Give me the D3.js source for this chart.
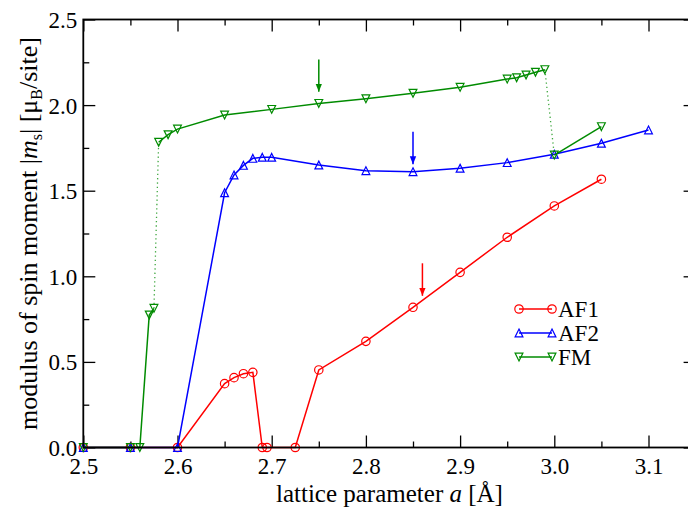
<!DOCTYPE html>
<html><head><meta charset="utf-8">
<script src="https://cdn.jsdelivr.net/npm/d3@7"></script>
<style>body{margin:0;background:#fff}svg{display:block}</style>
</head><body><svg id="c" width="688" height="508"></svg>
<script>
const xTicks = [2.5,2.6,2.7,2.8,2.9,3.0,3.1];
const xMinor = [2.55,2.65,2.75,2.85,2.95,3.05,3.15];
const yTicks = [0,0.5,1.0,1.5,2.0,2.5];
const yMinor = [0.25,0.75,1.25,1.75,2.25];

const xAF1 = [2.5,2.55,2.6,2.65,2.66,2.67,2.68,2.69,2.695,2.725,2.75,2.8,2.85,2.9,2.95,3.0,3.05];
const yAF1 = [0,0,0,0.373,0.408,0.431,0.439,0,0,0,0.453,0.620,0.819,1.023,1.228,1.411,1.567];

const xAF2 = [2.5,2.55,2.6,2.65,2.66,2.67,2.68,2.69,2.7,2.75,2.8,2.85,2.9,2.95,3.0,3.05,3.1];
const yAF2 = [0,0,0,1.488,1.592,1.648,1.689,1.695,1.695,1.650,1.617,1.611,1.631,1.664,1.713,1.777,1.855];

const xFM = [2.5,2.55,2.56,2.57,2.575,2.58,2.59,2.6,2.65,2.7,2.75,2.8,2.85,2.9,2.95,2.96,2.97,2.98,2.99,3.0,3.05];
const yFM = [0,0,0,0.774,0.813,1.783,1.827,1.860,1.942,1.975,2.010,2.037,2.069,2.104,2.152,2.160,2.176,2.192,2.207,1.708,1.874];
const branchFM = [0,0,0,0,0,1,1,1,1,1,1,1,1,1,1,1,1,1,1,2,2];

const seriesNames = ["AF1","AF2","FM"];
const seriesColors = ["#ff0000","#0000ff","#008b00"];

// arrows marking equilibrium: x, yStart, yEnd
const arrowX = [2.86,2.85,2.75];
const arrowY0 = [1.076,1.844,2.267];
const arrowY1 = [0.886,1.654,2.078];

const FONT = "'Liberation Serif', 'DejaVu Serif', serif";
const svg = d3.select("#c").attr("font-family",FONT);
const L=83.3, R=695.6, T=19.5, B=447.5;
const x = d3.scaleLinear().domain([2.5,3.15]).range([L,R]);
const y = d3.scaleLinear().domain([0,2.5]).range([B,T]);

const defs = svg.append("defs");
seriesColors.forEach((c,i)=>{
  defs.append("marker").attr("id","ah"+i).attr("viewBox","0 0 10 10").attr("refX",10).attr("refY",5)
    .attr("markerWidth",8).attr("markerHeight",8).attr("markerUnits","userSpaceOnUse").attr("orient","auto")
    .append("path").attr("d","M0,1 L10,5 L0,9 Z").attr("fill",c);
});

const fmt = d3.format(".1f");
const gB = svg.append("g").attr("transform",`translate(0,${B})`).call(d3.axisBottom(x).tickValues(xTicks).tickFormat(fmt).tickSizeInner(-12).tickSizeOuter(0));
const gBm = svg.append("g").attr("transform",`translate(0,${B})`).call(d3.axisBottom(x).tickValues(xMinor).tickFormat("").tickSizeInner(-6).tickSizeOuter(0));
const gT = svg.append("g").attr("transform",`translate(0,${T})`).call(d3.axisTop(x).tickValues(xTicks).tickFormat("").tickSizeInner(-12).tickSizeOuter(0));
const gTm = svg.append("g").attr("transform",`translate(0,${T})`).call(d3.axisTop(x).tickValues(xMinor).tickFormat("").tickSizeInner(-6).tickSizeOuter(0));
const gL = svg.append("g").attr("transform",`translate(${L},0)`).call(d3.axisLeft(y).tickValues(yTicks).tickFormat(fmt).tickSizeInner(-12).tickSizeOuter(0));
const gLm = svg.append("g").attr("transform",`translate(${L},0)`).call(d3.axisLeft(y).tickValues(yMinor).tickFormat("").tickSizeInner(-6).tickSizeOuter(0));
const gR = svg.append("g").attr("transform",`translate(${R},0)`).call(d3.axisRight(y).tickValues(yTicks).tickFormat("").tickSizeInner(-12).tickSizeOuter(0));
const gRm = svg.append("g").attr("transform",`translate(${R},0)`).call(d3.axisRight(y).tickValues(yMinor).tickFormat("").tickSizeInner(-6).tickSizeOuter(0));
[gB,gBm,gT,gTm,gL,gLm,gR,gRm].forEach(g=>{
  g.attr("font-family",FONT).attr("font-size",null);
  g.select(".domain").remove();
  g.selectAll(".tick line").attr("stroke","#000").attr("stroke-width",1.3);
});
gB.selectAll(".tick text").attr("y",10).attr("dy","0.71em").attr("font-family",FONT).attr("font-size",23).attr("fill","#000");
gL.selectAll(".tick text").attr("x",-6).attr("dy","0.35em").attr("font-family",FONT).attr("font-size",23).attr("fill","#000");

const series = [
  {xs:xAF1, ys:yAF1, br:xAF1.map(()=>0)},
  {xs:xAF2, ys:yAF2, br:xAF2.map(()=>0)},
  {xs:xFM, ys:yFM, br:branchFM}
];
const line = d3.line().x(d=>x(d[0])).y(d=>y(d[1]));
const r=4.2, tr=3.9;
function sym(g,i,cx,cy,col){
  if(i===0) g.append("circle").attr("cx",cx).attr("cy",cy).attr("r",r).attr("fill","none").attr("stroke",col).attr("stroke-width",1.2);
  else if(i===1) g.append("path").attr("d",`M${cx},${cy-tr}L${cx+tr},${cy+tr}L${cx-tr},${cy+tr}Z`).attr("fill","none").attr("stroke",col).attr("stroke-width",1.2);
  else g.append("path").attr("d",`M${cx},${cy+tr}L${cx+tr},${cy-tr}L${cx-tr},${cy-tr}Z`).attr("fill","none").attr("stroke",col).attr("stroke-width",1.2);
}
series.forEach((s,i)=>{
  const col = seriesColors[i];
  const pts = s.xs.map((v,k)=>[v,s.ys[k],s.br[k]]);
  const g = svg.append("g");
  const branches = d3.groups(pts,d=>d[2]).map(d=>d[1]);
  branches.forEach((bp,bi)=>{
    g.append("path").datum(bp).attr("d",line).attr("fill","none").attr("stroke",col).attr("stroke-width",1.5);
    if(bi>0){
      const prev = branches[bi-1];
      g.append("path").datum([prev[prev.length-1],bp[0]]).attr("d",line).attr("fill","none")
        .attr("stroke",col).attr("stroke-width",1.3).attr("stroke-dasharray","1.3,3").attr("opacity",0.75);
    }
  });
  pts.forEach(p=>sym(g,i,x(p[0]),y(p[1]),col));
});

svg.append("rect").attr("x",L).attr("y",T).attr("width",R-L).attr("height",B-T).attr("fill","none").attr("stroke","#000").attr("stroke-width",1.8);

arrowX.forEach((ax,i)=>{
  svg.append("line").attr("x1",x(ax)).attr("x2",x(ax)).attr("y1",y(arrowY0[i])).attr("y2",y(arrowY1[i]))
    .attr("stroke",seriesColors[i]).attr("stroke-width",1.5).attr("marker-end",`url(#ah${i})`);
});

const legY = [309,333,357];
seriesNames.forEach((n,i)=>{
  const g = svg.append("g");
  g.append("line").attr("x1",519).attr("x2",552).attr("y1",legY[i]).attr("y2",legY[i]).attr("stroke",seriesColors[i]).attr("stroke-width",1.5);
  sym(g,i,519,legY[i],seriesColors[i]); sym(g,i,552,legY[i],seriesColors[i]);
  g.append("text").attr("x",558).attr("y",legY[i]).attr("dy","0.35em").attr("font-family",FONT).attr("font-size",23).text(n);
});

const xt = svg.append("text").attr("x",(L+R)/2).attr("y",502).attr("text-anchor","middle").attr("font-family",FONT).attr("font-size",25);
xt.append("tspan").text("lattice parameter ");
xt.append("tspan").attr("font-style","italic").text("a");
xt.append("tspan").text(" [Å]");

const yt = svg.append("text").attr("transform",`translate(37,${(T+B)/2}) rotate(-90)`).attr("text-anchor","middle").attr("font-family",FONT).attr("font-size",26);
yt.append("tspan").text("modulus of spin moment |");
yt.append("tspan").attr("font-style","italic").text("m");
yt.append("tspan").attr("dy",5).attr("font-size",16).text("s");
yt.append("tspan").attr("dy",-5).text("| [μ");
yt.append("tspan").attr("dy",5).attr("font-size",16).text("B");
yt.append("tspan").attr("dy",-5).text("/site]");
</script></body></html>
